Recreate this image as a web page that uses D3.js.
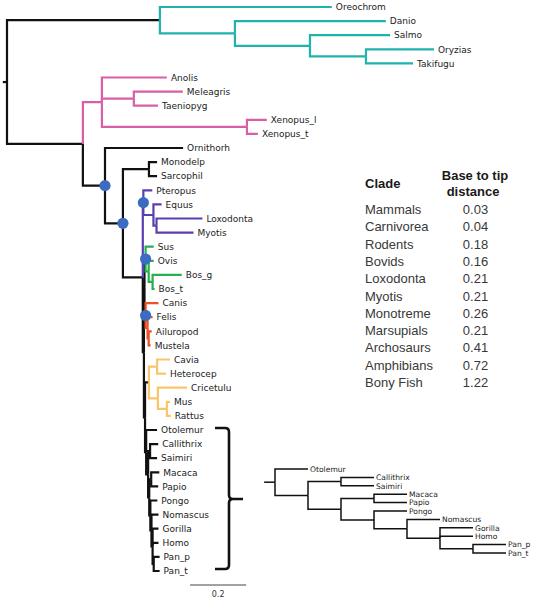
<!DOCTYPE html>
<html><head><meta charset="utf-8">
<script src="https://cdn.jsdelivr.net/npm/d3@7"></script>
<style>body{margin:0;background:#fff}svg{display:block}</style>
</head><body><svg id="c" width="541" height="600"></svg>
<script>
// ---------- DATA ----------
const treeNewick = "((Oreochrom:0.614,(Danio:0.539,(Salmo:0.286,(Oryzias:0.243,Takifugu:0.168):0.2):0.268):0.268)Fish:0.546," +
 "((Anolis:0.232,(Meleagris:0.175,Taeniopyg:0.086):0.114,(Xenopus_l:0.071,Xenopus_t:0.039):0.518)Pink:0.068," +
 "(Ornithorh:0.279,((Monodelp:0.029,Sarcophil:0.029):0.093," +
 "((Pteropus:0.032,(Equus:0.029,(Loxodonta:0.164,Myotis:0.132):0.011):0.036)Purple:0.002," +
 "(((Sus:0.029,(Ovis:0.018,(Bos_g:0.104,Bos_t:0.007):0.014):0.011)Green:0.004," +
 "(Canis:0.046,(Felis:0.018,(Ailuropod:0.011,Mustela:0.007):0.004):0.007)Red:0.004):0.002," +
 "(((Cavia:0.046,Heterocep:0.032):0.029,(Cricetulu:0.104,(Mus:0.011,Rattus:0.014):0.032):0.032)Yellow:0.014," +
 "(Otolemur:0.039,((Callithrix:0.029,Saimiri:0.025):0.007,((Macaca:0.029,Papio:0.025):0.007," +
 "(Pongo:0.025,(Nomascus:0.025,(Gorilla:0.021,Homo:0.021,(Pan_p:0.021,Pan_t:0.021):0.004):0.004):0.004):0.004):0.004):0.007)Primates:0.004):0.004):0.004)Placentalia:0.071)Theria:0.064)Mammals:0.079)Tetrapoda:0.271)Root:0.015;";

const insetNewick = "(Otolemur:1,((Callithrix:1,Saimiri:1):1,((Macaca:1,Papio:1):1,(Pongo:1,(Nomascus:1,(Gorilla:1,Homo:1,(Pan_p:1,Pan_t:1):1):1):1):1):1):1)Root:0.33;";

const cladeNames   = ["Fish", "Pink", "Purple", "Green", "Red", "Yellow"];
const cladeColors  = ["#1fb3ad", "#d85fa6", "#5b3faf", "#27ae50", "#ef4f27", "#f9c56a"];
const cladeStemColored = [false, true, true, false, false, false];
const markedNodes  = ["Mammals", "Theria", "Purple", "Green", "Red"];

const tableHeader    = ["Clade", "Base to tip", "distance"];
const tableClades    = ["Mammals","Carnivorea","Rodents","Bovids","Loxodonta","Myotis","Monotreme","Marsupials","Archosaurs","Amphibians","Bony Fish"];
const tableDistances = ["0.03","0.04","0.18","0.16","0.21","0.21","0.26","0.21","0.41","0.72","1.22"];
const scaleBarValue  = 0.2;
const scaleBarLabel  = "0.2";

// ---------- HELPERS ----------
function parseNewick(str){
  const s = str.replace(/\s+/g,"");
  let i = 0;
  function node(){
    const n = {};
    if (s[i] === "("){
      n.children = [];
      i++;
      n.children.push(node());
      while (s[i] === ","){ i++; n.children.push(node()); }
      i++; // ')'
    }
    let name = "";
    while (i < s.length && !",():;".includes(s[i])) name += s[i++];
    n.name = name;
    if (s[i] === ":"){
      i++;
      let num = "";
      while (i < s.length && !",();".includes(s[i])) num += s[i++];
      n.length = +num;
    } else n.length = 0;
    return n;
  }
  return node();
}

function layout(newick, yFirst, yStep){
  const root = d3.hierarchy(parseNewick(newick));
  root.eachBefore(d => { d.dist = d.parent ? d.parent.dist + d.data.length : 0; });
  const leaves = root.leaves();
  const y = d3.scaleLinear().domain([0, leaves.length - 1]).range([yFirst, yFirst + yStep*(leaves.length-1)]);
  leaves.forEach((l, k) => l.y = y(k));
  root.eachAfter(d => {
    if (d.children) d.y = (d.children[0].y + d.children[d.children.length-1].y) / 2;
  });
  return root;
}

const svg = d3.select("#c");
const FONT = "'DejaVu Sans', Verdana, sans-serif";

// ---------- MAIN TREE ----------
const tree = layout(treeNewick, 7, 14.1);
const x = d3.scaleLinear().domain([0, 1]).range([7, 287]); // 280 px per unit

function branchColor(d){
  let a = d;
  let first = true;
  while (a){
    const k = cladeNames.indexOf(a.data.name);
    if (k >= 0 && (!first || cladeStemColored[k])) return cladeColors[k];
    first = false;
    a = a.parent;
  }
  return "#111";
}

const branches = tree.descendants().filter(d => d.parent).map(d => ({d, color: branchColor(d)}));
branches.sort((a, b) => (a.color === "#111" ? 0 : 1) - (b.color === "#111" ? 0 : 1));

const gTree = svg.append("g");
gTree.append("path")
  .attr("d", `M${x(-tree.data.length)},${tree.y}H${x(0)}`)
  .attr("stroke", "#111").attr("stroke-width", 2.2).attr("fill", "none");

gTree.selectAll("path.br").data(branches).join("path")
  .attr("class", "br")
  .attr("d", b => `M${x(b.d.parent.dist)},${b.d.parent.y}V${b.d.y}H${x(b.d.dist)}`)
  .attr("stroke", b => b.color)
  .attr("stroke-width", 2.2)
  .attr("fill", "none")
  .attr("stroke-linejoin", "miter");

gTree.selectAll("text.lf").data(tree.leaves()).join("text")
  .attr("class", "lf")
  .attr("x", d => x(d.dist) + 4)
  .attr("y", d => d.y)
  .attr("dy", "0.36em")
  .attr("font-family", FONT)
  .attr("font-size", 9)
  .attr("fill", "#222")
  .text(d => d.data.name);

gTree.selectAll("circle").data(tree.descendants().filter(d => markedNodes.includes(d.data.name))).join("circle")
  .attr("cx", d => x(d.dist))
  .attr("cy", d => d.y)
  .attr("r", 5.6)
  .attr("fill", "#3b6cc1");

// ---------- SCALE BAR ----------
const sbY = 585;
svg.append("line")
  .attr("x1", x(0.654)).attr("x2", x(0.654 + scaleBarValue))
  .attr("y1", sbY).attr("y2", sbY)
  .attr("stroke", "#444").attr("stroke-width", 1);
svg.append("text")
  .attr("x", (x(0.654) + x(0.654 + scaleBarValue)) / 2)
  .attr("y", 597)
  .attr("text-anchor", "middle")
  .attr("font-family", FONT).attr("font-size", 8).attr("fill", "#333")
  .text(scaleBarLabel);

// ---------- BRACE ----------
svg.append("path")
  .attr("d", "M215,428H225Q229,428 229,432V495Q229,499 233,499H243M233,499Q229,499 229,503V565Q229,569 225,569H215")
  .attr("fill", "none").attr("stroke", "#111").attr("stroke-width", 2.6);

// ---------- INSET TREE ----------
const inset = layout(insetNewick, 469, 8.4);
const xi = d3.scaleLinear().domain([0, 1]).range([275, 308]);
const gIn = svg.append("g");
gIn.append("path")
  .attr("d", `M${xi(-inset.data.length)},${inset.y}H${xi(0)}`)
  .attr("stroke", "#111").attr("stroke-width", 1.5).attr("fill", "none");
gIn.selectAll("path.br").data(inset.descendants().filter(d => d.parent)).join("path")
  .attr("class", "br")
  .attr("d", d => `M${xi(d.parent.dist)},${d.parent.y}V${d.y}H${xi(d.dist)}`)
  .attr("stroke", "#111").attr("stroke-width", 1.5).attr("fill", "none");
gIn.selectAll("text").data(inset.leaves()).join("text")
  .attr("x", d => xi(d.dist) + 2)
  .attr("y", d => d.y)
  .attr("dy", "0.36em")
  .attr("font-family", FONT).attr("font-size", 7.6).attr("fill", "#222")
  .text(d => d.data.name);

// ---------- TABLE ----------
const TFONT = "'Liberation Sans', Arial, sans-serif";
const gT = svg.append("g");
gT.append("text").attr("x", 365).attr("y", 188).attr("font-family", TFONT)
  .attr("font-size", 13).attr("font-weight", "bold").attr("fill", "#1a1a1a").text(tableHeader[0]);
gT.append("text").attr("x", 475).attr("y", 180).attr("text-anchor", "middle").attr("font-family", TFONT)
  .attr("font-size", 13).attr("font-weight", "bold").attr("fill", "#1a1a1a").text(tableHeader[1]);
gT.append("text").attr("x", 473).attr("y", 196).attr("text-anchor", "middle").attr("font-family", TFONT)
  .attr("font-size", 13).attr("font-weight", "bold").attr("fill", "#1a1a1a").text(tableHeader[2]);
const rowY = d3.scaleLinear().domain([0, tableClades.length - 1]).range([214, 387]);
gT.selectAll("text.cl").data(tableClades).join("text").attr("class", "cl")
  .attr("x", 365).attr("y", (d, k) => rowY(k))
  .attr("font-family", TFONT).attr("font-size", 13).attr("fill", "#383838").text(d => d);
gT.selectAll("text.dv").data(tableDistances).join("text").attr("class", "dv")
  .attr("x", 475.5).attr("y", (d, k) => rowY(k)).attr("text-anchor", "middle")
  .attr("font-family", TFONT).attr("font-size", 13).attr("fill", "#383838").text(d => d);
</script>
</body></html>
